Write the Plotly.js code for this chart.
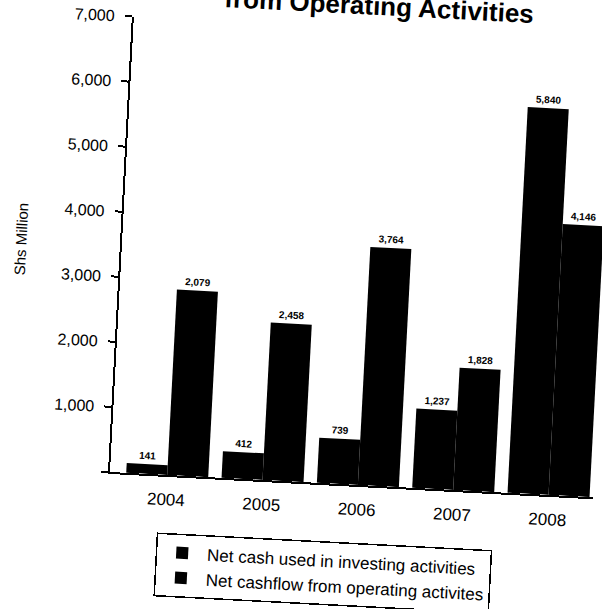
<!DOCTYPE html>
<html>
<head>
<meta charset="utf-8">
<script src="https://cdn.plot.ly/plotly-3.0.1.min.js"></script>
<style>
html, body { margin:0; padding:0; background:#fff; overflow:hidden; width:602px; height:609px; }
#chart { position:absolute; left:-40px; top:-60px; width:680px; height:700px;
  transform: rotate(3deg); transform-origin: 150px 532px; }
</style>
</head>
<body>
<div id="chart"></div>
<script>
// Data
const years = ["2004", "2005", "2006", "2007", "2008"];
const investing = [150, 410, 695, 1220, 5930];      // bar heights as drawn
const operating = [2850, 2420, 3660, 1880, 4165];   // bar heights as drawn
const investingLabels = ["141", "412", "739", "1,237", "5,840"];
const operatingLabels = ["2,079", "2,458", "3,764", "1,828", "4,146"];
const yTicks = [0, 1000, 2000, 3000, 4000, 5000, 6000, 7000];
const yTickText = ["", "1,000", "2,000", "3,000", "4,000", "5,000", "6,000", "7,000"];

const FONT = "Liberation Sans, Arial, sans-serif";

const traces = [
  {
    type: "bar", name: "Net cash used in investing activities",
    x: years, y: investing, text: investingLabels,
    textposition: "outside", cliponaxis: false,
    textfont: { family: FONT, size: 10, color: "#000", weight: "bold" },
    marker: { color: "#000" }, hoverinfo: "skip"
  },
  {
    type: "bar", name: "Net cashflow from operating activites",
    x: years, y: operating, text: operatingLabels,
    textposition: "outside", cliponaxis: false,
    textfont: { family: FONT, size: 10, color: "#000", weight: "bold" },
    marker: { color: "#000" }, hoverinfo: "skip"
  }
];

const layout = {
  width: 680, height: 700,
  margin: { l: 150, r: 46, t: 76, b: 168, pad: 0 },
  paper_bgcolor: "#fff", plot_bgcolor: "#fff",
  font: { family: FONT, color: "#000" },
  barmode: "group", bargap: 0.14, bargroupgap: 0,
  title: {
    text: "<b>from Operating Activities</b>",
    font: { family: FONT, size: 26, color: "#000" },
    xref: "container", x: 0.58, xanchor: "center",
    yref: "container", y: 0.925, yanchor: "middle"
  },
  xaxis: {
    type: "category", range: [-0.6, 4.47],
    showline: true, linecolor: "#000", linewidth: 2,
    ticks: "", ticklabelstandoff: 8,
    tickfont: { family: FONT, size: 17, color: "#000" },
    showgrid: false, zeroline: false, fixedrange: true
  },
  yaxis: {
    range: [0, 7000], tickvals: yTicks, ticktext: yTickText,
    showline: true, linecolor: "#000", linewidth: 2,
    ticks: "outside", ticklen: 7, tickwidth: 2, tickcolor: "#000",
    ticklabelstandoff: 7,
    tickfont: { family: FONT, size: 16, color: "#000" },
    showgrid: false, zeroline: false, fixedrange: true,
    title: { text: "Shs Million", standoff: 32, font: { family: FONT, size: 15, color: "#000" } }
  },
  showlegend: true,
  legend: {
    x: 0.103, xanchor: "left", y: -0.127, yanchor: "top",
    bordercolor: "#000", borderwidth: 1.5, bgcolor: "#fff",
    font: { family: FONT, size: 17, color: "#000" },
    traceorder: "normal", itemwidth: 40
  }
};

Plotly.newPlot("chart", traces, layout, { staticPlot: true, displayModeBar: false });
</script>
</body>
</html>
